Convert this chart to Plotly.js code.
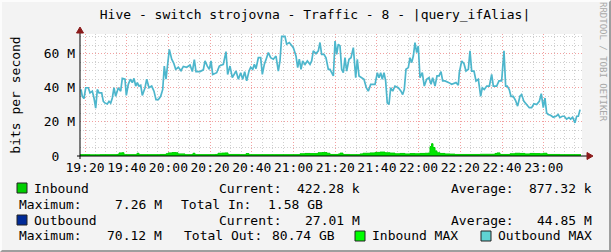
<!DOCTYPE html>
<html><head><meta charset="utf-8">
<script src="https://cdn.plot.ly/plotly-3.0.1.min.js"></script>
<style>
html,body{margin:0;padding:0;background:#f3f3f3;}
#wrap{position:relative;width:611px;height:252px;overflow:hidden;}
#wrap::after{content:'';position:absolute;left:0;top:0;width:611px;height:252px;box-sizing:border-box;border-top:2px solid #fcfcfc;border-left:2px solid #fcfcfc;border-right:2px solid #9e9e9e;border-bottom:2px solid #9e9e9e;pointer-events:none;}
#chart{width:611px;height:252px;}
</style></head>
<body><div id="wrap"><div id="chart"></div></div>
<script>
const DAY = '2024-01-01 ';
const chartTitle = 'Hive - switch strojovna - Traffic - 8 - |query_ifAlias|';
const yTitle = 'bits per second';
const yTickVals = [0, 20, 40, 60];
const yTickText = ['0\u00a0\u00a0', '20 M', '40 M', '60 M'];

// Outbound MAX (Mbit/s)
const outTimes = ['19:18:05','19:18:42','19:19:31','19:20:20','19:21:35','19:22:24','19:23:30','19:24:19','19:25:08','19:25:54','19:26:43','19:28:00','19:28:47','19:29:36','19:30:42','19:31:31','19:32:19','19:33:06','19:33:54','19:34:43','19:35:58','19:37:07','19:37:53','19:39:11','19:39:49','19:40:46','19:41:44','19:42:41','19:43:30','19:44:19','19:45:05','19:45:54','19:46:43','19:47:29','19:48:47','19:49:36','19:50:42','19:51:59','19:53:05','19:54:03','19:55:09','19:56:18','19:57:16','19:58:02','19:58:51','19:59:40','20:00:26','20:01:35','20:02:32','20:03:30','20:04:46','20:06:03','20:07:10','20:08:46','20:10:22','20:11:29','20:12:26','20:13:14','20:15:09','20:16:45','20:17:33',
'20:18:40','20:19:37','20:20:26','20:21:14','20:23:09','20:24:25','20:26:20','20:27:37','20:28:25','20:29:32','20:30:39','20:31:28','20:32:26','20:33:33','20:34:40','20:35:38','20:36:35','20:37:33','20:38:40','20:39:28','20:40:26','20:41:13','20:42:01','20:43:08','20:44:15','20:45:03','20:46:00','20:47:07','20:47:55','20:49:02','20:50:19','20:51:36','20:52:43','20:53:31','20:54:20','20:55:55','20:56:43','20:58:00','20:59:07','20:59:55','21:01:12','21:02:00','21:02:47','21:03:36','21:04:24','21:05:31','21:06:38','21:07:55','21:08:43','21:09:30','21:10:47','21:11:54','21:12:42','21:13:30','21:14:37','21:15:35','21:16:42',
'21:17:30','21:19:07','21:19:55','21:20:43','21:21:29','21:22:18','21:23:06','21:23:53','21:24:42','21:25:30','21:26:37','21:27:35','21:28:42','21:29:50','21:30:36','21:31:25','21:32:42','21:33:48','21:34:55','21:35:52','21:37:02','21:39:05','21:40:12','21:41:01','21:41:49','21:42:35','21:43:24','21:44:12','21:44:58','21:45:47','21:46:36','21:47:34','21:48:40','21:50:16','21:51:33','21:52:22','21:53:08','21:53:57','21:55:04','21:55:52','21:56:41','21:57:28','21:58:16','21:59:04','21:59:50','22:00:40','22:01:46','22:02:44','22:03:52','22:04:59','22:05:57','22:06:45','22:07:52','22:08:49','22:09:47','22:10:44','22:11:33','22:12:39','22:14:34','22:15:51',
'22:17:56','22:19:03','22:19:31','22:20:40','22:21:46','22:22:44','22:23:51','22:24:39','22:25:27','22:26:34','22:27:32','22:28:39','22:29:46','22:30:32','22:31:30','22:32:40','22:33:56','22:35:03','22:35:50','22:37:26','22:38:33','22:39:50','22:40:57','22:41:45','22:42:31','22:43:29','22:44:17','22:45:24','22:46:31','22:47:29','22:48:36','22:49:24','22:50:31','22:51:48','22:53:05','22:54:12','22:55:19','22:56:36','22:57:53','22:58:50','22:59:48','23:00:36','23:01:24','23:02:11','23:03:18','23:04:35','23:05:52','23:06:59','23:07:47','23:08:54','23:09:52','23:10:59','23:12:06','23:12:54','23:13:52','23:14:59','23:15:48','23:16:36','23:17:26'];
const outMax = [39,35,33.7,40,40,37,38,34,28,39,37,37,32,31,30.5,32,31,34,40,35,40,38,45.5,45,35.5,42,45,43,45.5,41,43,41,41.5,35.5,40,45,40,41,38,33,33,35,39,52.7,45,53,62.5,56.7,54.5,50.8,52,50,52.5,52,53.3,49.5,56.5,49.5,49.5,50.5,55.7,
52.7,50.8,55.7,47.8,48.8,52.7,53.7,61.2,47.8,52.7,45.9,47.8,49.8,45,48.8,45,49.4,44,49.8,52,50.8,53.7,51.2,57.6,57.6,47.8,53.7,57.6,60.6,57.6,56.7,58.6,49.8,55.7,70.1,70.1,65.5,66.5,64.5,63.5,58.6,51.8,56.7,50.8,55.7,53.7,55.7,53.7,55.7,61.6,60,61.6,66.5,59.6,59.6,57.6,50.8,
50.8,46.9,67.4,59.6,65.5,64.5,50.8,48.8,57.6,49.8,56.7,57.6,63.5,45.9,56.7,46.9,45.9,45,40,38,42,42,48.8,45.9,48.8,45,48.8,44,31.2,30.2,40,38,41,40,38,36,39,50.8,51.8,57.6,54.7,58.6,66.5,60.6,64.5,45.9,48.8,41,45,45.9,42,45.9,41,46.9,46.9,49.4,44,44,43,42,
43,41.5,48.8,55.7,54.1,49.8,50.8,61.6,49.8,49.8,44,45,35,40,39,41,41,47.8,41,41,44,44,61.6,41,41,39,35,35,32.5,29.2,35,36,32,30.2,28.3,28.3,30.6,30.2,32,36.5,28.3,34,25.3,24.3,23.9,22.7,23.3,24.3,22.5,23.3,23.3,21.6,22.5,21.6,22.7,19.4,23.3,23.3,27.2];

// Inbound MAX (Mbit/s)
const inTimes = ['19:17:36','19:22:24','19:27:12','19:31:59','19:35:21','19:36:18','19:37:45','19:38:42','19:43:59','19:44:56','19:45:54','19:51:10','19:55:58','19:58:51','19:59:48','20:01:44','20:03:39','20:04:36','20:07:58','20:11:19','20:11:48','20:12:45','20:17:33','20:22:21','20:23:47','20:25:42','20:27:09','20:28:35','20:34:20','20:37:13','20:38:39','20:43:56','20:51:07','20:58:19','21:03:07','21:05:31','21:07:55','21:11:45','21:13:40','21:16:04','21:17:30','21:21:20','21:22:18','21:23:44','21:27:05','21:31:53','21:33:20','21:36:41','21:39:05','21:41:29','21:43:53','21:46:17','21:48:41','21:51:04','21:53:28','21:55:52','21:58:16','22:00:40','22:03:04','22:04:30','22:05:28','22:06:11','22:06:54','22:07:52','22:08:49','22:10:16','22:12:39','22:15:03','22:17:27','22:24:39','22:29:26','22:36:38','22:37:36','22:39:02','22:43:50','22:46:14','22:48:38','22:51:01','22:53:25','22:55:49','22:58:13','22:59:40','23:01:35','23:07:49','23:12:37','23:17:53'];
const inMax = [0.8,0.7,0.8,0.8,0.9,1.8,1.9,0.8,0.8,1.6,0.8,0.8,0.9,1.3,1.8,2.0,1.9,1.2,0.8,0.9,1.6,0.8,0.8,0.9,1.6,1.7,1.8,0.9,0.8,1.4,0.8,0.8,0.8,0.8,1.3,1.5,1.4,1.9,2.0,1.6,0.9,1.1,1.7,0.9,0.8,1.2,1.6,1.8,2.1,2.3,1.9,1.7,1.3,1.5,1.2,1.4,1.3,1.5,1.6,1.7,5.5,7.2,5.0,3.0,1.9,1.5,1.2,1.1,0.9,0.9,1.0,1.5,1.8,0.9,1.3,1.6,1.5,1.2,1.5,1.4,1.3,1.6,0.9,0.8,0.8,0.8];

const legendRows = [
  {y:188, sq:'#00cf00', name:'Inbound', cur:'422.28 k', avg:'877.32 k'},
  {y:204, max:'7.26 M', totLabel:'Total In:', tot:'1.58 GB'},
  {y:220, sq:'#002a97', name:'Outbound', cur:'27.01 M', avg:'44.85 M'},
  {y:236, max:'70.12 M', totLabel:'Total Out:', tot:'80.74 GB'}
];
const extraLegend = [{name:'Inbound MAX', color:'#00ff00', x:355}, {name:'Outbound MAX', color:'#5fd3d3', x:481}];

const L = 80, R = 582, T = 34, B = 156;
const px = x => (x - L) / (R - L);
const py = y => (B - y) / (B - T);
const font = {family:'DejaVu Sans Mono, monospace', size:13, color:'#000'};

const ann = [];
const shapes = [];
function txt(x, y, s, anchor) {
  ann.push({xref:'paper', yref:'paper', x:px(x), y:py(y), text:s.replace(/ /g,'\u00a0'), showarrow:false, xanchor:anchor||'left', yanchor:'middle', font:font, borderpad:0});
}
function sq(x, y, color) {
  shapes.push({type:'rect', xref:'paper', yref:'paper', x0:px(x), x1:px(x+10), y0:py(y+5), y1:py(y-5), fillcolor:color, line:{color:'#222', width:1}, layer:'above'});
}
legendRows.forEach(r => {
  if (r.name) {
    sq(17, r.y, r.sq);
    txt(33, r.y, r.name);
    txt(218, r.y, 'Current:');
    txt(361, r.y, r.cur, 'right');
    txt(450, r.y, 'Average:');
    txt(593, r.y, r.avg, 'right');
  } else {
    txt(18, r.y, 'Maximum:');
    txt(163, r.y, r.max, 'right');
    txt(r.totLabel === 'Total In:' ? 180 : 183, r.y, r.totLabel);
    txt(r.totLabel === 'Total In:' ? 324 : 336, r.y, r.tot, 'right');
  }
});
extraLegend.forEach(e => { sq(e.x, 236, e.color); txt(e.x + 16, 236, e.name); });

// watermark
ann.push({xref:'paper', yref:'paper', x:px(603), y:py(62), text:'RRDTOOL / TOBI OETIKER'.replace(/ /g,'\u00a0'), textangle:90, showarrow:false, xanchor:'center', yanchor:'middle', font:{family:'DejaVu Sans Mono, monospace', size:9, color:'#a8a8a8'}});

// axes lines + arrows
shapes.push({type:'line', xref:'paper', yref:'paper', x0:px(77), x1:px(588), y0:py(156), y1:py(156), line:{color:'#000', width:1}, layer:'above'});
shapes.push({type:'line', xref:'paper', yref:'paper', x0:px(80), x1:px(80), y0:py(159), y1:py(31), line:{color:'#000', width:1}, layer:'above'});
shapes.push({type:'path', xref:'paper', yref:'paper', path:`M ${px(587)} ${py(152.5)} L ${px(593)} ${py(156)} L ${px(587)} ${py(159.5)} Z`, fillcolor:'#8b1a1a', line:{color:'#8b1a1a', width:1}, layer:'above'});
shapes.push({type:'path', xref:'paper', yref:'paper', path:`M ${px(76.5)} ${py(33)} L ${px(80)} ${py(27)} L ${px(83.5)} ${py(33)} Z`, fillcolor:'#8b1a1a', line:{color:'#8b1a1a', width:1}, layer:'above'});

const traces = [
  {x: inTimes.map(t => DAY + t), y: inMax, type:'scatter', mode:'lines', name:'Inbound MAX', fill:'tozeroy', fillcolor:'#00e600', line:{color:'#00cf00', width:1, shape:'hv'}, hoverinfo:'skip'},
  {x: outTimes.map(t => DAY + t), y: outMax, type:'scatter', mode:'lines', name:'Outbound MAX', line:{color:'#4db6cc', width:1.7}, hoverinfo:'skip'}
];

const layout = {
  width:611, height:252,
  margin:{l:L, r:611-R, t:T, b:252-B, pad:0},
  paper_bgcolor:'#f3f3f3', plot_bgcolor:'#ffffff',
  showlegend:false,
  title:{text:chartTitle, font:{family:'DejaVu Sans Mono, monospace', size:13, color:'#000'}, x:315/611, xanchor:'center', y:1-14/252, yanchor:'middle'},
  xaxis:{type:'date', range:[DAY+'19:17:36', DAY+'23:18:22'], tickformat:'%H:%M', tick0:DAY+'19:20', dtick:20*60*1000,
    showgrid:true, gridcolor:'#f2a0a0', griddash:'1px,2px', gridwidth:1, zeroline:false, showline:false, ticks:'',
    tickfont:font, ticklabelstandoff:2, fixedrange:true,
    minor:{dtick:5*60*1000, tick0:DAY+'19:20', showgrid:true, gridcolor:'#cfcfcf', griddash:'1px,2px', gridwidth:1}},
  yaxis:{range:[0, 71.5], tickvals:yTickVals, ticktext:yTickText, showgrid:true, gridcolor:'#f2a0a0', griddash:'1px,2px', gridwidth:1,
    zeroline:false, showline:false, ticks:'', tickfont:font, ticklabelstandoff:4,
    title:{text:yTitle, font:font, standoff:20},
    minor:{dtick:5, showgrid:true, gridcolor:'#cfcfcf', griddash:'1px,2px', gridwidth:1}},
  annotations: ann,
  shapes: shapes
};
Plotly.newPlot('chart', traces, layout, {staticPlot:true, displayModeBar:false});
</script>
</body></html>
